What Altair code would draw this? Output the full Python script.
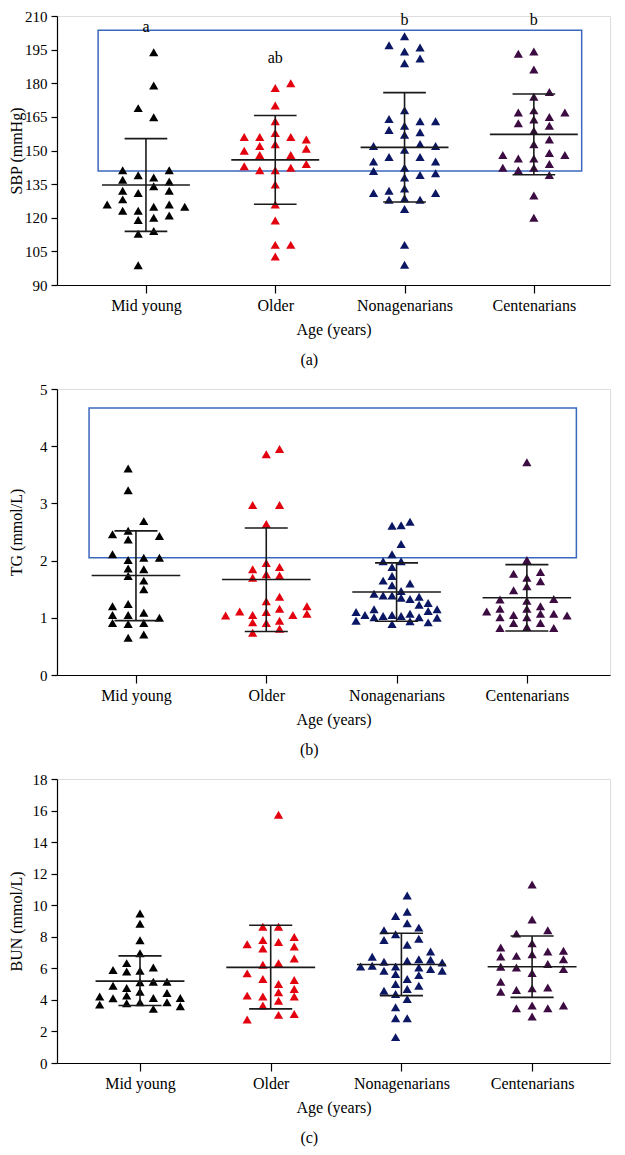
import json
import altair as alt
import pandas as pd

GROUPS = ["Mid young", "Older", "Nonagenarians", "Centenarians"]
COLORS = ["#000000", "#e3000f", "#0b1763", "#3c0b41"]
BOX_COLOR = "#3a68bd"
RULE_COLOR = "#1a1a1a"
FONT = "Liberation Serif"

# ---------------- (a) SBP (mmHg) ----------------
SBP_MID_YOUNG = [193.8, 179.0, 168.9, 164.8, 141.2, 141.2, 139.0, 138.0, 136.9, 136.2,
                 134.1, 132.0, 132.0, 131.0, 128.2, 125.9, 124.9, 125.9, 124.9, 123.1,
                 123.1, 121.0, 120.0, 119.0, 112.9, 114.1, 98.8]
SBP_MID_YOUNG_COL = [0.5, 0.5, -0.5, 0.5, -1.5, 1.5, -0.5, 0.5, -1.5, 1.5,
                     0.5, -1.5, 1.5, -0.5, -1.5, -2.5, 0.5, 1.5, 2.5, -1.5,
                     -0.5, 1.5, 0.5, -0.5, -0.5, 0.5, -0.5]
SBP_OLDER = [180.0, 177.9, 170.1, 163.1, 156.0, 156.0, 156.0, 154.9, 157.8, 152.8,
             152.0, 150.8, 149.9, 148.0, 148.0, 143.0, 142.3, 144.0, 141.2, 141.2,
             134.8, 125.9, 118.8, 107.9, 107.9, 102.7]
SBP_OLDER_COL = [1, 0, 0, 0, -2, -1, 1, 2, 0, 0,
                 -1, 2, -2, -1, 1, -2, 1, 2, -1, 0,
                 0, 0, 0, 0, 1, 0]
SBP_NONAGENARIANS = [201.0, 197.0, 195.9, 194.2, 191.0, 188.9, 168.0, 164.1, 163.1, 163.1,
                     161.0, 159.1, 158.1, 157.0, 152.0, 152.9, 152.0, 150.3, 147.1, 147.1,
                     145.1, 145.1, 142.3, 140.9, 139.8, 139.1, 138.0, 133.0, 131.0, 132.0,
                     131.0, 128.7, 128.0, 128.0, 123.9, 107.9, 99.0]
SBP_NONAGENARIANS_COL = [0, -1, 1, 0, 1, 0, 0, -1, 1, 2,
                         0, -1, 1, 0, -2, 1, 2, 0, -1, 1,
                         -2, 2, 0, -2, 2, 1, 0, 0, -2, -1,
                         2, 0, -1, 1, 0, 0, 0]
SBP_CENTENARIANS = [193.2, 194.2, 186.1, 176.1, 174.0, 167.0, 167.9, 167.0, 164.9, 163.8,
                    162.2, 161.0, 158.8, 154.9, 152.8, 148.0, 146.4, 146.4, 148.9, 148.0,
                    142.3, 141.2, 142.3, 144.0, 139.1, 129.9, 120.0]
SBP_CENTENARIANS_COL = [-1, 0, 0, 1, 0, -1, 0, 2, 1, 0,
                        -1, 1, 0, 1, 0, -2, -1, 0, 1, 2,
                        -2, -1, 0, 1, 1, 0, 0]
SBP_MEAN = [134.6, 145.8, 151.4, 157.2]
SBP_SD_LOW = [113.9, 126.0, 127.0, 139.2]
SBP_SD_HIGH = [155.3, 165.6, 175.8, 175.2]
SBP_LETTERS = ["a", "ab", "b", "b"]
SBP_LETTER_Y = [204.9, 191.3, 208.3, 208.3]
SBP_BOX_X = [-0.37, 3.37]
SBP_BOX_Y = [140.9, 203.6]
SBP_TICKS = [90, 105, 120, 135, 150, 165, 180, 195, 210]

# ---------------- (b) TG (mmol/L) ----------------
TG_MID_YOUNG = [3.61, 3.23, 2.69, 2.46, 2.52, 2.37, 2.43, 2.11, 2.01, 2.05,
                2.05, 1.86, 1.85, 1.73, 1.65, 1.50, 1.20, 1.24, 1.05, 1.05,
                1.09, 1.00, 0.91, 0.89, 0.91, 0.65, 0.71]
TG_MID_YOUNG_COL = [-0.5, -0.5, 0.5, -1.5, -0.5, -0.5, 1.5, -1.5, -0.5, 0.5,
                    1.5, -0.5, 0.5, -0.5, 0.5, 0.5, -1.5, -0.5, -1.5, -0.5,
                    0.5, 1.5, -1.5, -0.5, 0.5, -0.5, 0.5]
TG_OLDER = [3.95, 3.86, 2.97, 2.97, 2.64, 1.96, 1.85, 1.89, 1.70, 1.76,
            1.74, 1.37, 1.29, 1.16, 1.10, 1.11, 1.20, 1.07, 1.04, 1.05,
            1.05, 0.92, 0.91, 0.95, 0.81, 0.74]
TG_OLDER_COL = [0.85, 0, -0.87, 0.85, 0, 0, -0.87, 0.85, -0.87, 0,
                0.85, 0.85, 0, 0.85, 0, -1.7, 2.6, 2.6, -2.6, -0.87,
                1.7, -0.87, 0, 0.85, 0.85, -0.87]
TG_NONAGENARIANS = [2.61, 2.62, 2.68, 2.29, 2.11, 1.99, 1.99, 1.89, 1.73, 1.65,
                    1.57, 1.60, 1.42, 1.39, 1.39, 1.47, 1.35, 1.33, 1.37, 1.23,
                    1.26, 1.10, 1.15, 1.12, 1.15, 1.05, 1.01, 1.03, 1.05, 1.03,
                    1.07, 1.01, 1.00, 0.95, 0.89, 0.94, 0.92]
TG_NONAGENARIANS_COL = [-0.29, 0.29, 0.86, 0.29, -0.29, -0.86, 0.29, -0.29, -0.29, -0.86,
                        -0.29, 0.86, -1.44, -0.86, -0.29, 0.29, 0.29, 0.86, 1.44, 1.44,
                        2.02, -2.59, -1.44, 2.02, 2.59, -2.02, -1.44, -0.86, -0.29, 0.29,
                        0.86, 1.44, 2.59, -2.59, -0.29, 0.86, 2.02]
TG_CENTENARIANS = [3.72, 2.01, 1.77, 1.80, 1.70, 1.64, 1.55, 1.48, 1.32, 1.30,
                   1.33, 1.11, 1.16, 1.16, 1.20, 1.05, 1.07, 1.07, 1.04, 1.01,
                   1.01, 0.91, 0.91, 0.82, 0.84, 0.82]
TG_CENTENARIANS_COL = [0, 0, -0.85, 0.87, 0, 0.87, 0, -0.85, -1.72, 0,
                       1.72, -2.57, -1.72, 0, 0.87, -0.85, 0.87, 1.72, 2.57, -1.72,
                       0, -0.85, 0.87, -1.72, 0, 1.72]
TG_MEAN = [1.74, 1.67, 1.45, 1.35]
TG_SD_LOW = [0.95, 0.76, 0.94, 0.77]
TG_SD_HIGH = [2.52, 2.57, 1.96, 1.93]
TG_BOX_X = [-0.36, 3.38]
TG_BOX_Y = [2.05, 4.67]
TG_TICKS = [0, 1, 2, 3, 4, 5]

# ---------------- (c) BUN (mmol/L) ----------------
BUN_MID_YOUNG = [9.48, 8.83, 7.78, 6.96, 6.33, 5.89, 5.80, 5.85, 6.06, 4.90,
                 4.75, 5.11, 5.15, 5.15, 4.52, 4.27, 4.21, 4.44, 4.10, 4.12,
                 4.12, 3.78, 3.85, 3.85, 3.70, 3.60, 3.43]
BUN_MID_YOUNG_COL = [0, 0, 0, 0, -0.85, -1.72, -0.85, 0, 0.85, -1.72,
                     -0.85, 0, 0.85, 1.72, 0, -0.85, -2.57, 1.72, -1.72, 0.85,
                     2.57, -0.85, 0, 1.72, -2.57, 2.57, 0.85]
BUN_OLDER = [15.73, 8.64, 8.64, 7.53, 7.80, 7.25, 7.67, 7.99, 7.38, 6.62,
             6.22, 6.33, 5.68, 5.32, 5.26, 5.00, 4.69, 4.48, 4.27, 4.21,
             4.21, 3.95, 3.64, 2.75, 3.05, 3.11]
BUN_OLDER_COL = [0.5, -0.5, 0.5, -1.5, -0.5, -0.5, 0.5, 1.5, 1.5, 1.5,
                 -0.5, 0.5, -1.5, -0.5, 1.5, 0.5, 1.5, 0.5, -1.5, -0.5,
                 1.5, 0.5, -0.5, -1.5, 0.5, 1.5]
BUN_NONAGENARIANS = [10.62, 9.59, 9.31, 8.85, 8.41, 8.58, 8.16, 7.80, 7.88, 7.49,
                     7.06, 6.73, 6.41, 6.48, 6.58, 6.54, 6.37, 6.12, 6.16, 6.12,
                     6.06, 5.95, 5.85, 5.85, 5.64, 5.57, 5.32, 5.00, 4.90, 4.69,
                     4.58, 4.37, 4.06, 3.53, 2.84, 2.84, 1.64]
BUN_NONAGENARIANS_COL = [0.37, 0.37, -0.37, 0.37, -1.11, 1.11, -0.37, -1.11, 1.11, 0.37,
                         1.86, -1.86, -1.11, 0.37, 1.11, 1.86, 2.6, -2.6, -1.86, -0.37,
                         1.11, 1.86, 2.6, -1.11, -0.37, 1.11, 0.37, -0.37, 1.11, 0.37,
                         -1.11, -0.37, 0.37, -0.37, -0.37, 0.37, -0.37]
BUN_CENTENARIANS = [11.31, 9.10, 8.20, 8.41, 7.59, 7.32, 6.90, 7.06, 7.11, 6.75,
                    6.79, 6.58, 6.10, 6.06, 6.27, 5.95, 5.70, 5.15, 4.52, 4.63,
                    4.73, 4.79, 3.47, 3.64, 3.47, 3.64, 2.94]
BUN_CENTENARIANS_COL = [0, 0, -1, 1, 0, -2, 0, 1, 2, -2,
                        -1, 2, -2, -1, 1, 2, 0, -2, -2, -1,
                        0, 1, -1, 0, 1, 2, 0]
BUN_MEAN = [5.19, 6.06, 6.24, 6.10]
BUN_SD_LOW = [3.64, 3.43, 4.27, 4.16]
BUN_SD_HIGH = [6.79, 8.73, 8.22, 8.05]
BUN_TICKS = [0, 2, 4, 6, 8, 10, 12, 14, 16, 18]

SLOT = 0.12        # horizontal spread of one swarm column, in category units
MEAN_HALF = 0.34   # half length of mean line
CAP_HALF = 0.165   # half length of SD caps

LABEL_EXPR = json.dumps(GROUPS) + "[round(datum.value)]"


def points_df(vals_list, cols_list):
    rows = []
    for gi, (vals, cols) in enumerate(zip(vals_list, cols_list)):
        for v, c in zip(vals, cols):
            rows.append({"group": GROUPS[gi], "gi": gi, "value": v, "col": c})
    return pd.DataFrame(rows)


def stats_df(mean, low, high):
    return pd.DataFrame({"group": GROUPS, "gi": list(range(4)),
                         "mean": mean, "low": low, "high": high})


def panel(pts, st, ydomain, yticks, ytitle, xdomain, width, height, caption,
          title_pad, box_x=None, box_y=None, letters=None, letter_y=None):
    xs = alt.Scale(domain=xdomain, nice=False, zero=False)
    ys = alt.Scale(domain=ydomain, nice=False, zero=False)
    xaxis = alt.Axis(values=[0, 1, 2, 3], labelExpr=LABEL_EXPR, title="Age (years)",
                     tickSize=8, labelPadding=4, titlePadding=8,
                     labelFontSize=16, titleFontSize=16, labelFont=FONT, titleFont=FONT,
                     titleFontWeight="normal", domainColor="black", tickColor="black",
                     labelColor="black", titleColor="black", grid=False, domainWidth=1.2,
                     tickWidth=1.2)
    yaxis = alt.Axis(values=yticks, title=ytitle, tickSize=6, labelPadding=4,
                     titlePadding=title_pad, labelFontSize=15, titleFontSize=16,
                     labelFont=FONT, titleFont=FONT, titleFontWeight="normal",
                     domainColor="black", tickColor="black", labelColor="black",
                     titleColor="black", grid=False, domainWidth=1.2, tickWidth=1.2)

    layers = []
    if box_x is not None:
        bdf = pd.DataFrame({"x0": [box_x[0]], "x1": [box_x[1]],
                            "y0": [box_y[0]], "y1": [box_y[1]]})
        layers.append(
            alt.Chart(bdf).mark_rect(fillOpacity=0, stroke=BOX_COLOR, strokeWidth=1.5).encode(
                x=alt.X("x0:Q", scale=xs, axis=xaxis), x2="x1:Q",
                y=alt.Y("y0:Q", scale=ys, axis=yaxis), y2="y1:Q"))

    dots = alt.Chart(pts).transform_calculate(
        xpos=f"datum.gi + datum.col * {SLOT}"
    ).mark_point(shape="triangle-up", filled=True, size=85, opacity=1).encode(
        x=alt.X("xpos:Q", scale=xs, axis=xaxis),
        y=alt.Y("value:Q", scale=ys, axis=yaxis),
        color=alt.Color("group:N", scale=alt.Scale(domain=GROUPS, range=COLORS), legend=None),
    )
    layers.append(dots)

    base = alt.Chart(st).transform_calculate(
        m0=f"datum.gi - {MEAN_HALF}", m1=f"datum.gi + {MEAN_HALF}",
        c0=f"datum.gi - {CAP_HALF}", c1=f"datum.gi + {CAP_HALF}")
    rule = dict(color=RULE_COLOR, strokeWidth=1.6)
    layers.append(base.mark_rule(**rule).encode(
        x=alt.X("gi:Q", scale=xs, axis=xaxis),
        y=alt.Y("low:Q", scale=ys, axis=yaxis), y2="high:Q"))
    layers.append(base.mark_rule(**rule).encode(
        x=alt.X("m0:Q", scale=xs, axis=xaxis), x2="m1:Q",
        y=alt.Y("mean:Q", scale=ys, axis=yaxis)))
    layers.append(base.mark_rule(**rule).encode(
        x=alt.X("c0:Q", scale=xs, axis=xaxis), x2="c1:Q",
        y=alt.Y("high:Q", scale=ys, axis=yaxis)))
    layers.append(base.mark_rule(**rule).encode(
        x=alt.X("c0:Q", scale=xs, axis=xaxis), x2="c1:Q",
        y=alt.Y("low:Q", scale=ys, axis=yaxis)))

    if letters is not None:
        ldf = pd.DataFrame({"gi": list(range(4)), "letter": letters, "ly": letter_y})
        layers.append(alt.Chart(ldf).mark_text(font=FONT, fontSize=16, color="black",
                                               baseline="middle").encode(
            x=alt.X("gi:Q", scale=xs, axis=xaxis),
            y=alt.Y("ly:Q", scale=ys, axis=yaxis),
            text="letter:N"))

    return alt.layer(*layers).properties(
        width=width, height=height,
        title=alt.TitleParams(caption, orient="bottom", font=FONT, fontSize=16,
                              fontWeight="normal", color="black", offset=15,
                              frame="bounds", anchor="middle"))


pa = panel(points_df([SBP_MID_YOUNG, SBP_OLDER, SBP_NONAGENARIANS, SBP_CENTENARIANS],
                     [SBP_MID_YOUNG_COL, SBP_OLDER_COL, SBP_NONAGENARIANS_COL, SBP_CENTENARIANS_COL]),
           stats_df(SBP_MEAN, SBP_SD_LOW, SBP_SD_HIGH),
           [90, 210], SBP_TICKS, "SBP (mmHg)", [-0.688, 3.589], 553, 269, "(a)", 0,
           SBP_BOX_X, SBP_BOX_Y, SBP_LETTERS, SBP_LETTER_Y)

pb = panel(points_df([TG_MID_YOUNG, TG_OLDER, TG_NONAGENARIANS, TG_CENTENARIANS],
                     [TG_MID_YOUNG_COL, TG_OLDER_COL, TG_NONAGENARIANS_COL, TG_CENTENARIANS_COL]),
           stats_df(TG_MEAN, TG_SD_LOW, TG_SD_HIGH),
           [0, 5], TG_TICKS, "TG (mmol/L)", [-0.606, 3.638], 553, 286, "(b)", 15,
           TG_BOX_X, TG_BOX_Y)

pc = panel(points_df([BUN_MID_YOUNG, BUN_OLDER, BUN_NONAGENARIANS, BUN_CENTENARIANS],
                     [BUN_MID_YOUNG_COL, BUN_OLDER_COL, BUN_NONAGENARIANS_COL, BUN_CENTENARIANS_COL]),
           stats_df(BUN_MEAN, BUN_SD_LOW, BUN_SD_HIGH),
           [0, 18], BUN_TICKS, "BUN (mmol/L)", [-0.635, 3.596], 553, 284, "(c)", 7.5)

chart = alt.vconcat(pa, pb, pc, spacing=12).properties(
    padding=0
).configure_view(stroke=None).configure(background="white")

chart.save("out.html", embed_options={"renderer": "svg", "actions": False})
